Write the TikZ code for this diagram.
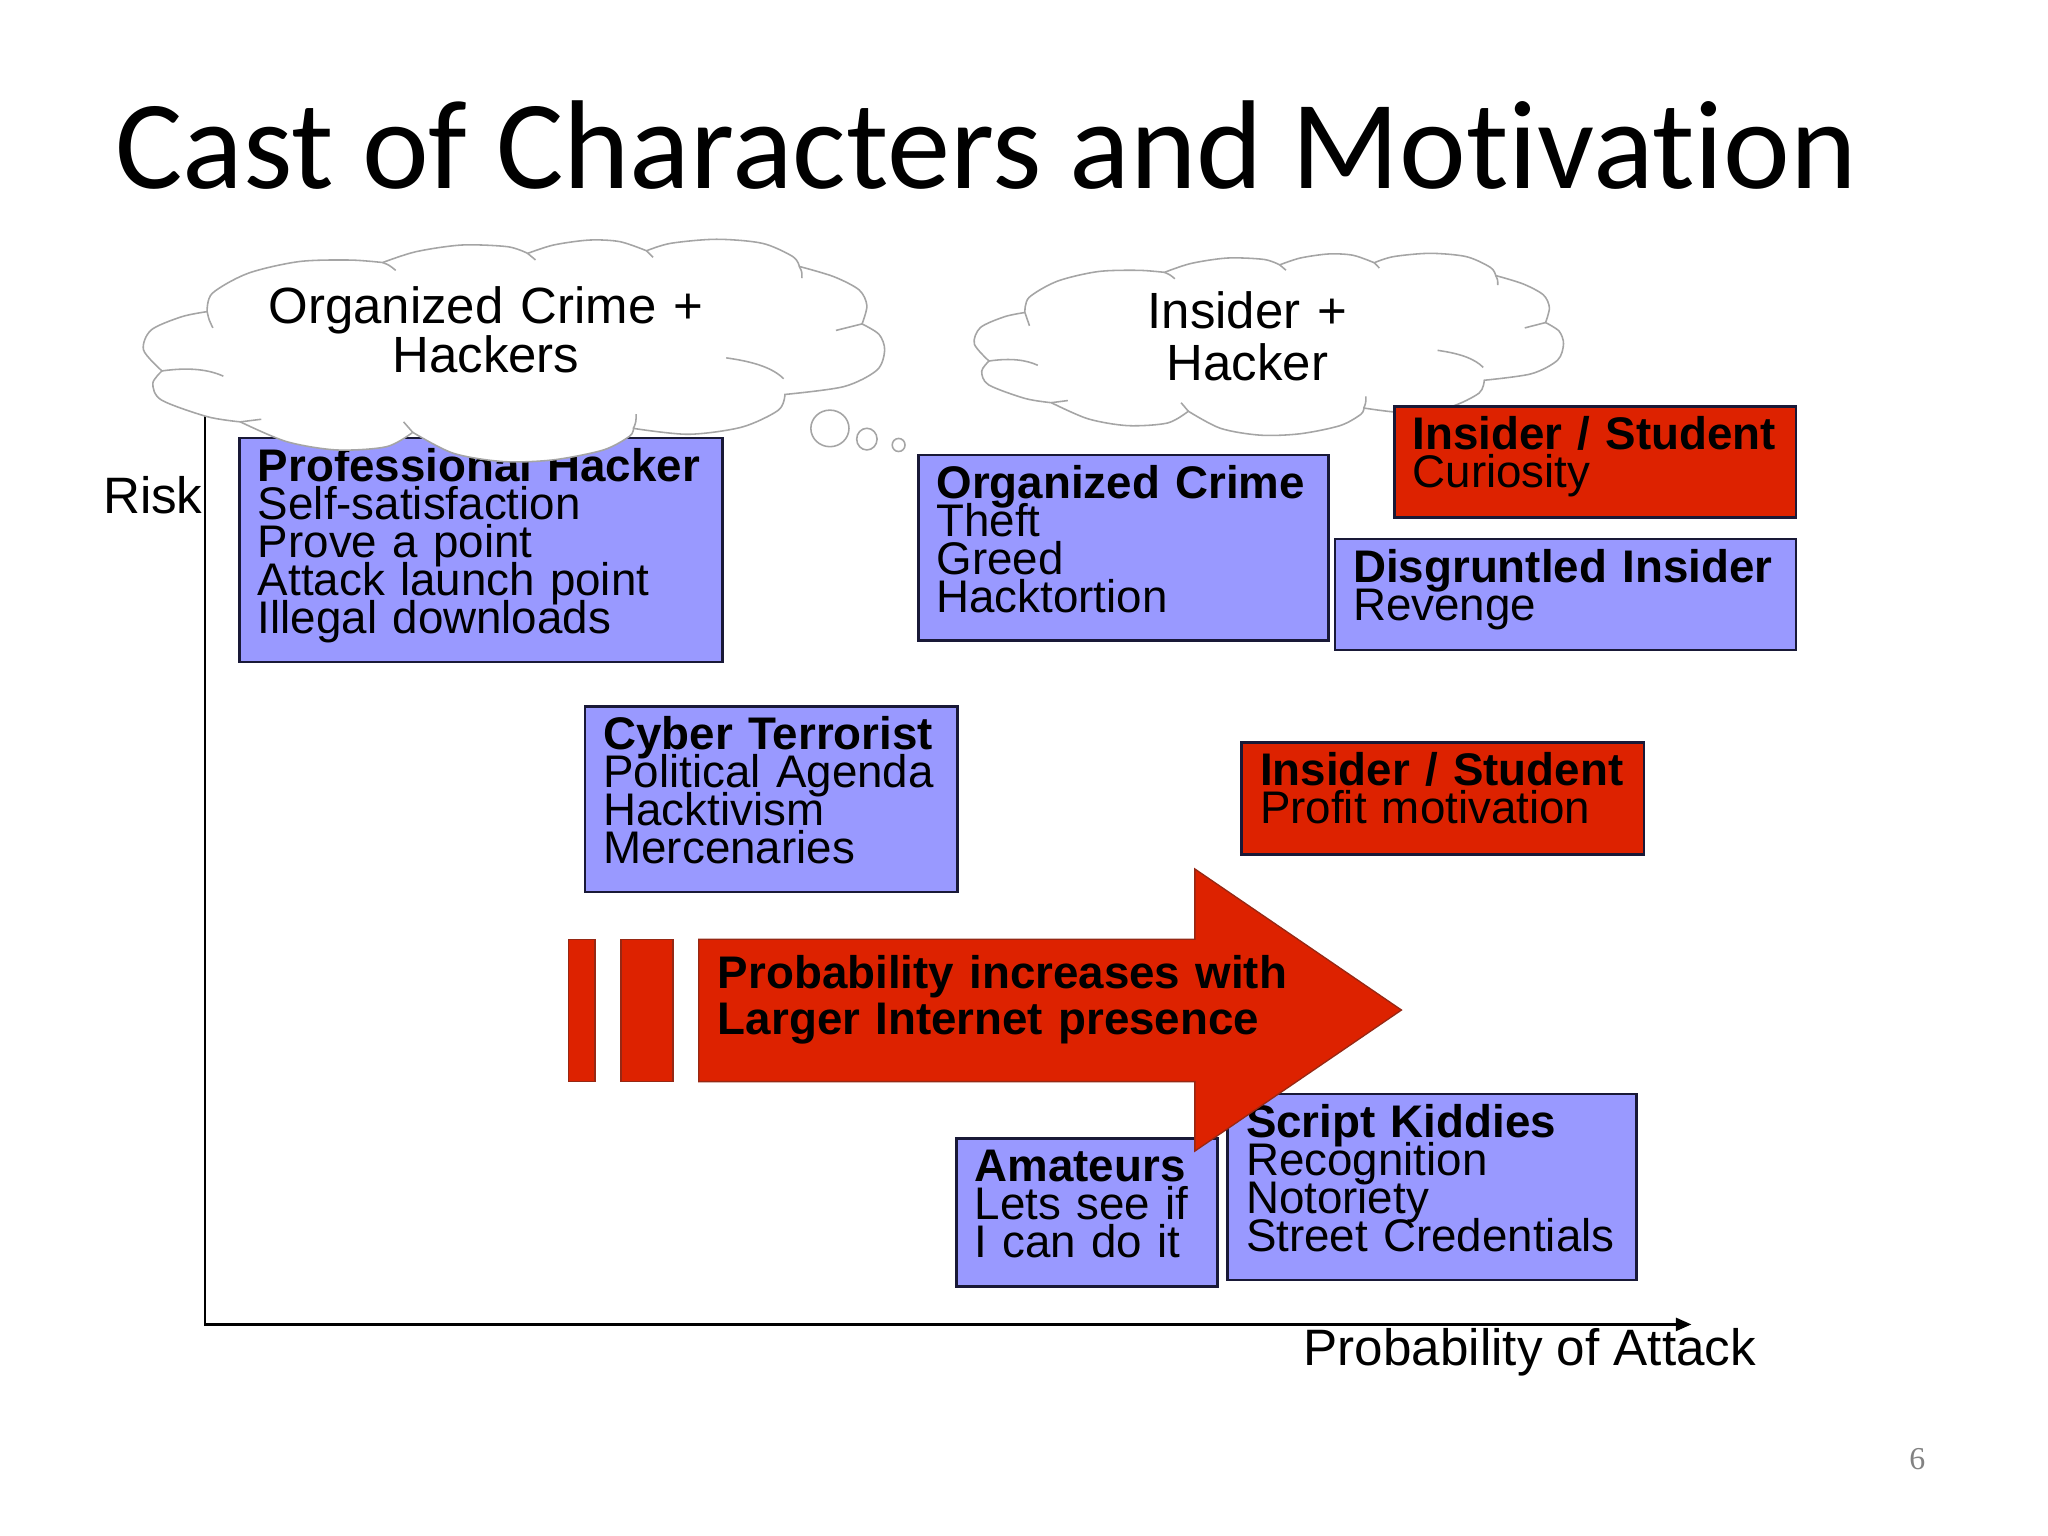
\documentclass[tikz,border=0pt]{standalone}
\usepackage{fontspec}
\setmainfont{Liberation Sans}
\newfontfamily\titlefam[Ligatures=NoCommon]{Carlito}
\newfontfamily\serifam{Liberation Serif}
\usetikzlibrary{arrows.meta}
\definecolor{lav}{RGB}{153,153,255}
\definecolor{redfill}{RGB}{221,34,0}
\definecolor{boxline}{RGB}{25,25,55}
\definecolor{cloudline}{RGB}{165,165,165}
\definecolor{arrowline}{RGB}{150,40,20}
\definecolor{pagegrey}{RGB}{130,130,130}
\lineskiplimit=-100pt
\newcommand\boxfont{\fontsize{17.5pt}{14.55pt}\selectfont\lineskiplimit=-100pt\relax}
\newcommand\labelfont{\fontsize{19.6pt}{22pt}\selectfont}
\newcommand\arrowfont{\fontsize{17.5pt}{17.6pt}\selectfont\bfseries\lineskiplimit=-100pt\relax}
\tikzset{
  charbox/.style={draw=boxline, line width=1pt, anchor=north west, inner xsep=7pt,
    inner ysep=0pt, align=left, font=\boxfont, text height=16.5pt},
  lavbox/.style={charbox, fill=lav},
  redbox/.style={charbox, fill=redfill},
  cloudedge/.style={draw=cloudline, line width=0.6pt},
  arrowpart/.style={fill=redfill, draw=arrowline, line width=0.5pt},
}
\newcommand\drawcloudshape{%
    \path[cloudedge, fill=white]
      plot[smooth] coordinates {(158.6,238.6) (162.5,224.6) (189.8,209.3) (228.8,200.3) (267.8,199.1) (293,201)}
      -- plot[smooth] coordinates {(293,201) (318.5,192.7) (353.6,187.6) (388.7,188.9) (404,194)}
      -- plot[smooth] coordinates {(404,194) (423.8,187.6) (451.1,183.8) (474.5,185) (495,192)}
      -- plot[smooth] coordinates {(495,192) (513.5,186.3) (548.6,183.2) (583.7,186.3) (607.1,196.5) (612,204)}
      -- plot[smooth] coordinates {(612,204) (638.3,211.8) (657.8,222) (663.7,234) (660,248)}
      -- plot[smooth] coordinates {(660,248) (673,256) (677.3,268) (671.5,283.3) (646.1,296) (601,302)}
      -- plot[smooth] coordinates {(601,302) (596,314) (568,327) (527,332.5) (485,328)}
      -- plot[smooth] coordinates {(485,328) (482,334) (462,344.5) (423.6,352.1) (385.3,353.4) (347,347) (316,331)}
      -- plot[smooth] coordinates {(316,331) (296,342) (257.8,344.5) (219.4,338.1) (184,323)}
      -- plot[smooth] coordinates {(184,323) (158.6,319) (123.5,306.2) (117,293.5) (124,284)}
      -- plot[smooth] coordinates {(124,284) (109.9,268) (115.7,252.7) (139.1,242.5) (158.6,238.6)}
      -- cycle;
    \draw[cloudedge] (124,284) .. controls (145,281) and (160,283) .. (171,288);
    \draw[cloudedge] (184,323) .. controls (192,321.5) .. (200,321);
    \draw[cloudedge] (316,331) .. controls (312,327) .. (309,323);
    \draw[cloudedge] (485,328) .. controls (487,323) .. (487,317);
    \draw[cloudedge] (556,274) .. controls (578,277) and (592,282) .. (600,290);
    \draw[cloudedge] (660,248) .. controls (652,250) .. (640,253);
    \draw[cloudedge] (612,204) .. controls (614,208) .. (614,213);
    \draw[cloudedge] (293,201) .. controls (298,203) .. (303,207);
    \draw[cloudedge] (404,194) .. controls (407,196) .. (410,199);
    \draw[cloudedge] (495,192) .. controls (498,194) .. (500,197);
    \draw[cloudedge] (158.6,238.6) .. controls (160,245) .. (163,251);
}
\begin{document}
\begin{tikzpicture}[x=0.5pt,y=-0.5pt]
\fill[white] (0,0) rectangle (1568,1176);
\useasboundingbox (0,0) rectangle (1568,1176);

% axes
\coordinate (ytop) at (157,316);
\coordinate (origin) at (157,1014);
\coordinate (xend) at (1295,1014);
\draw[line width=1pt, -{Triangle[length=6pt,width=5pt]}] (ytop) -- (origin) -- (xend);

% character boxes
\node[lavbox, text width=170.75pt, text depth=69.25pt] (ph) at (182.5,334.3)
  {\textbf{Professional~Hacker}\\Self-satisfaction\\Prove~a~point\\Attack~launch~point\\Illegal~downloads};
\node[lavbox, text width=143pt, text depth=54.45pt] (oc) at (702,347.5)
  {\textbf{Organized~Crime}\\Theft\\Greed\\Hacktortion};
\node[lavbox, text width=162.5pt, text depth=26pt] (di) at (1021,411.6)
  {\textbf{Disgruntled~Insider}\\Revenge};
\node[lavbox, text width=128.5pt, text depth=54.6pt] (ct) at (447,539.7)
  {\textbf{Cyber~Terrorist}\\Political~Agenda\\Hacktivism\\Mercenaries};
\node[redbox, text width=140.05pt, text depth=26.5pt] (is2) at (949.7,567.3)
  {\textbf{Insider~/~Student}\\Profit~motivation};
\node[lavbox, text width=85.9pt, text depth=40.15pt] (am) at (731.2,870.8)
  {\textbf{Amateurs}\\Lets~see~if\\I~can~do~it};
\node[lavbox, text width=142.5pt, text depth=54.7pt] (sk) at (939,836.6)
  {\textbf{Script~Kiddies}\\Recognition\\Notoriety\\Street~Credentials};

% striped block arrow
\path[arrowpart] (435.5,719.1) rectangle (455.5,828.1);
\path[arrowpart] (475.5,719.1) rectangle (515.3,828.1);
\path[arrowpart] (535,719.1) -- (914.8,719.1) -- (914.8,665.3) -- (1073,773.3)
  -- (914.8,881.3) -- (914.8,828.1) -- (535,828.1) -- cycle;
\node[anchor=base west, inner sep=0pt, text width=240pt, align=left, font=\arrowfont]
  (arrowtext) at (549.3,756.7) {Probability~increases~with\\Larger~Internet~presence};

% cloud 1 with thought bubbles
\drawcloudshape
\draw[cloudedge, fill=white] (635.4,328) ellipse [x radius=14.6, y radius=14];
\draw[cloudedge, fill=white] (663.7,336.2) ellipse [x radius=7.8, y radius=8.3];
\draw[cloudedge, fill=white] (688,340.7) ellipse [x radius=4.9, y radius=5];
\node[anchor=base, inner sep=0pt, text width=220pt, align=center,
  font=\fontsize{19.5pt}{18.85pt}\selectfont] (cloudA) at (372,247.6) {Organized Crime +\\Hackers};

% cloud 2 (same outline, scaled)
\begin{scope}[shift={(658.6,44.1)}, xscale=0.795, yscale=0.818]
  \drawcloudshape
\end{scope}
\node[anchor=base, inner sep=0pt, text width=160pt, align=center,
  font=\fontsize{19.5pt}{20.15pt}\selectfont] (cloudB) at (955,251.4) {Insider +\\Hacker};

\node[redbox, text width=139.75pt, text depth=25.95pt] (is1) at (1066.5,310.1)
  {\textbf{Insider~/~Student}\\Curiosity};

% labels
\node[anchor=base west, inner sep=0pt, font=\titlefam\fontsize{48.4pt}{50pt}\selectfont]
  (title) at (88,144.2) {Cast of Characters and Motivation};
\node[anchor=base west, inner sep=0pt, font=\labelfont] (risk) at (78.5,393) {Risk};
\node[anchor=base west, inner sep=0pt, font=\labelfont] (xlabel) at (997.7,1045.1) {Probability of Attack};
\node[anchor=base west, inner sep=0pt, font=\serifam\fontsize{12.2pt}{14pt}\selectfont,
  text=pagegrey] (pagenum) at (1461.5,1125.4) {6};
\end{tikzpicture}
\end{document}
